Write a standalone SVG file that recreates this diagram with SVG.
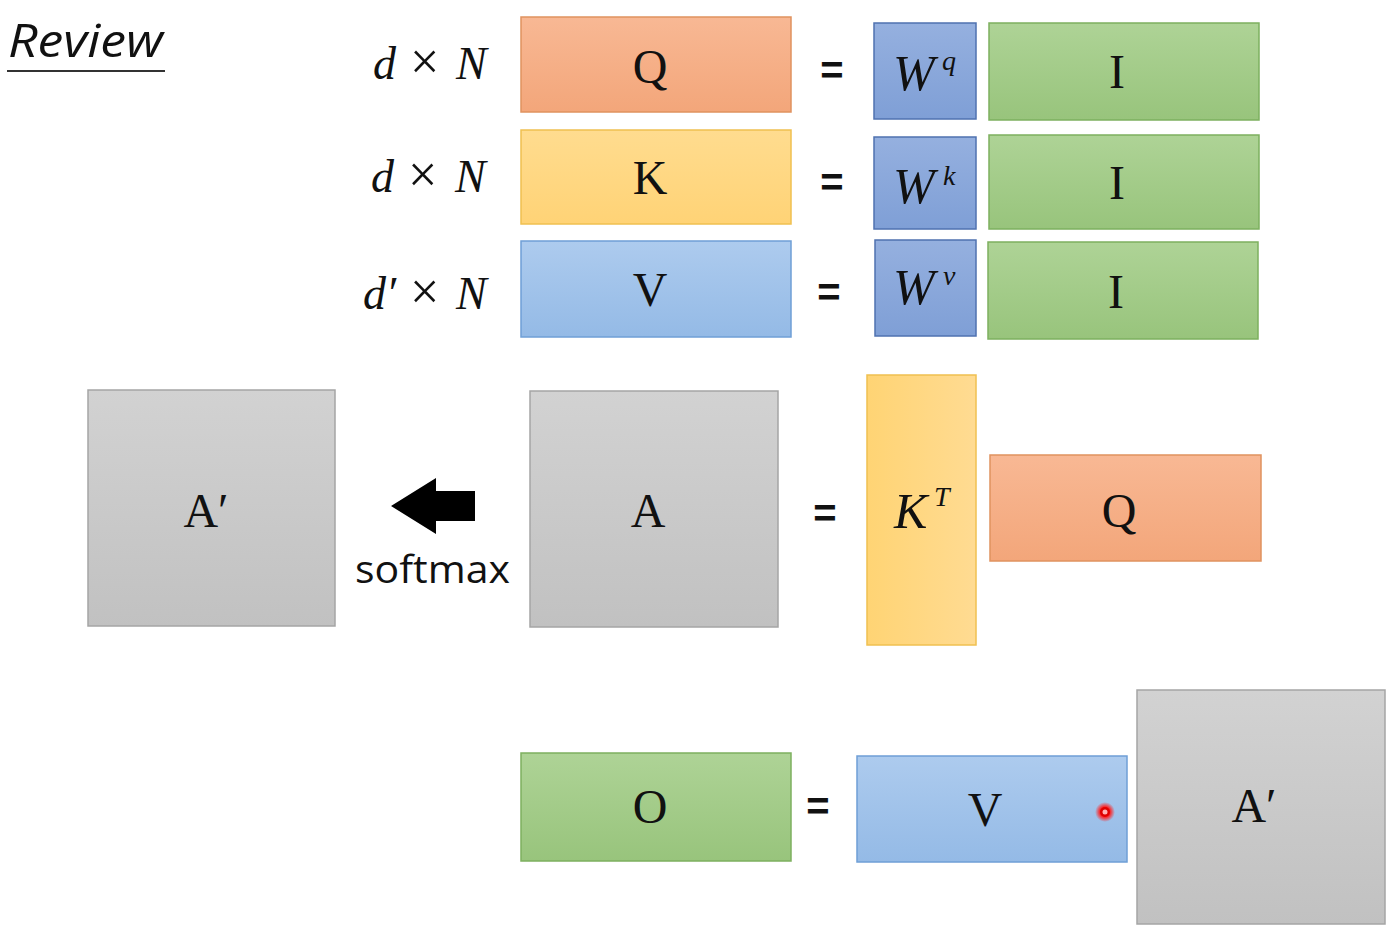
<svg xmlns="http://www.w3.org/2000/svg" width="1394" height="941" viewBox="0 0 1394 941">
<defs>
<linearGradient id="gOr" x1="0" y1="0" x2="0" y2="1"><stop offset="0" stop-color="#f8b894"/><stop offset="1" stop-color="#f3a67a"/></linearGradient>
<linearGradient id="gYe" x1="0" y1="0" x2="0" y2="1"><stop offset="0" stop-color="#ffdc8f"/><stop offset="1" stop-color="#ffd376"/></linearGradient>
<linearGradient id="gYeV" x1="0" y1="0" x2="1" y2="0"><stop offset="0" stop-color="#ffd474"/><stop offset="1" stop-color="#ffdb92"/></linearGradient>
<linearGradient id="gBl" x1="0" y1="0" x2="0" y2="1"><stop offset="0" stop-color="#adcbee"/><stop offset="1" stop-color="#94bae6"/></linearGradient>
<linearGradient id="gW" x1="0" y1="0" x2="0" y2="1"><stop offset="0" stop-color="#95b0df"/><stop offset="1" stop-color="#7f9fd6"/></linearGradient>
<linearGradient id="gGr" x1="0" y1="0" x2="0" y2="1"><stop offset="0" stop-color="#aed396"/><stop offset="1" stop-color="#98c47c"/></linearGradient>
<linearGradient id="gGy" x1="0" y1="0" x2="0" y2="1"><stop offset="0" stop-color="#d2d2d2"/><stop offset="1" stop-color="#c1c1c1"/></linearGradient>
<radialGradient id="gDot"><stop offset="0.5" stop-color="#ff2020"/><stop offset="1" stop-color="#ff2020" stop-opacity="0"/></radialGradient>
</defs>
<style>
.or{fill:url(#gOr);stroke:#e0925f;stroke-width:1.5}
.ye{fill:url(#gYe);stroke:#f0c050;stroke-width:1.5}
.yev{fill:url(#gYeV);stroke:#f0c050;stroke-width:1.5}
.bl{fill:url(#gBl);stroke:#6f9fd6;stroke-width:1.5}
.w{fill:url(#gW);stroke:#4f72b0;stroke-width:1.5}
.gr{fill:url(#gGr);stroke:#7db05f;stroke-width:1.5}
.gy{fill:url(#gGy);stroke:#a5a5a5;stroke-width:1.5}
.m{font-family:"Liberation Serif","DejaVu Serif",serif;font-size:48px;fill:#111;text-anchor:middle}
.it{font-family:"Liberation Serif","DejaVu Serif",serif;font-style:italic;font-size:46px;fill:#111}
.big{font-size:50px}
.sup{font-size:28px}
.eq{font-family:"Liberation Sans",sans-serif;font-weight:bold;font-size:40px;fill:#111;text-anchor:middle}
.sans{font-family:"Open Sans","Liberation Sans",sans-serif;fill:#111}
</style>
<g id="title">
<text x="8" y="57" class="sans" font-size="46" font-style="italic" textLength="155" lengthAdjust="spacingAndGlyphs">Review</text>
<line x1="7" y1="71" x2="165" y2="71" stroke="#333" stroke-width="2"/>
</g>
<g id="dims">
<text y="79" class="it"><tspan x="373">d</tspan><tspan x="410" font-style="normal" font-size="52">×</tspan><tspan x="456">N</tspan></text>
<text y="192" class="it"><tspan x="371">d</tspan><tspan x="408" font-style="normal" font-size="52">×</tspan><tspan x="455">N</tspan></text>
<text y="309" class="it"><tspan x="363">d′</tspan><tspan x="410" font-style="normal" font-size="52">×</tspan><tspan x="456">N</tspan></text>
</g>
<g id="Q1"><rect x="521" y="17" width="270" height="95" class="or"/><text x="650" y="83" class="m">Q</text></g>
<g id="K1"><rect x="521" y="130" width="270" height="94" class="ye"/><text x="650" y="194" class="m">K</text></g>
<g id="V1"><rect x="521" y="241" width="270" height="96" class="bl"/><text x="650" y="306" class="m">V</text></g>
<g id="eqs">
<text x="832" y="84" class="eq">=</text>
<text x="832" y="196" class="eq">=</text>
<text x="829" y="306" class="eq">=</text>
<text x="825" y="527" class="eq">=</text>
<text x="818" y="820" class="eq">=</text>
</g>
<g id="Wq"><rect x="874" y="23" width="102" height="96" class="w"/><text y="90" class="it"><tspan x="893" class="big">W</tspan><tspan x="942" y="70" class="sup">q</tspan></text></g>
<g id="Wk"><rect x="874" y="137" width="102" height="92" class="w"/><text y="203" class="it"><tspan x="893" class="big">W</tspan><tspan x="943" y="185" class="sup">k</tspan></text></g>
<g id="Wv"><rect x="875" y="240" width="101" height="96" class="w"/><text y="304" class="it"><tspan x="893" class="big">W</tspan><tspan x="943" y="285" class="sup">v</tspan></text></g>
<g id="I1"><rect x="989" y="23" width="270" height="97" class="gr"/><text x="1117" y="88" class="m">I</text></g>
<g id="I2"><rect x="989" y="135" width="270" height="94" class="gr"/><text x="1117" y="199" class="m">I</text></g>
<g id="I3"><rect x="988" y="242" width="270" height="97" class="gr"/><text x="1116" y="308" class="m">I</text></g>
<g id="Aprime1"><rect x="88" y="390" width="247" height="236" class="gy"/><text x="206" y="527" class="m">A′</text></g>
<g id="connectors">
<polygon points="391,506 436,478 436,491 475,491 475,521 436,521 436,534" fill="#000"/>
<text x="355" y="583" class="sans" font-size="39" textLength="155" lengthAdjust="spacingAndGlyphs">softmax</text>
</g>
<g id="A"><rect x="530" y="391" width="248" height="236" class="gy"/><text x="648" y="527" class="m">A</text></g>
<g id="KT"><rect x="867" y="375" width="109" height="270" class="yev"/><text y="528" class="it"><tspan x="894" class="big">K</tspan><tspan x="934" y="506" class="sup">T</tspan></text></g>
<g id="Q2"><rect x="990" y="455" width="271" height="106" class="or"/><text x="1119" y="527" class="m">Q</text></g>
<g id="O"><rect x="521" y="753" width="270" height="108" class="gr"/><text x="650" y="823" class="m">O</text></g>
<g id="V2"><rect x="857" y="756" width="270" height="106" class="bl"/><text x="985" y="826" class="m">V</text></g>
<g id="Aprime2"><rect x="1137" y="690" width="248" height="234" class="gy"/><text x="1254" y="822" class="m">A′</text></g>
<g id="pointer"><circle cx="1105" cy="812" r="10" fill="url(#gDot)"/><circle cx="1105" cy="812" r="5" fill="#e00000"/><circle cx="1105" cy="812" r="2.5" fill="#ffb0b0"/></g>
</svg>
